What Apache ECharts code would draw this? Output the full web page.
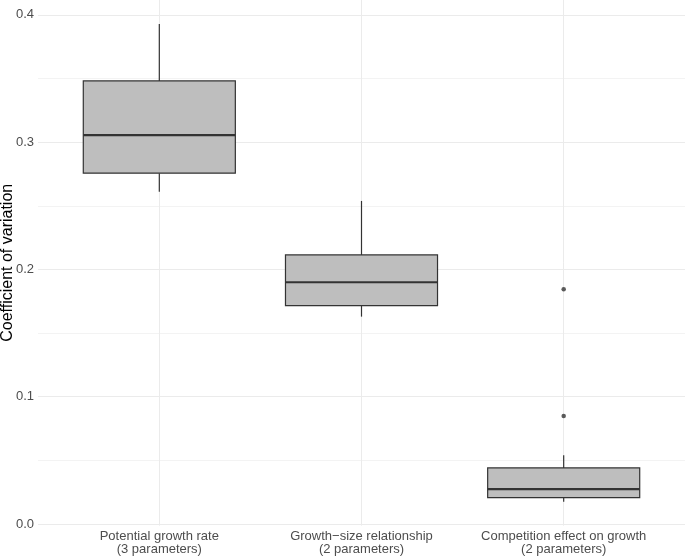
<!DOCTYPE html>
<html><head><meta charset="utf-8">
<script src="https://cdn.jsdelivr.net/npm/echarts@6/dist/echarts.min.js"></script>
<style>html,body{margin:0;padding:0;background:#fff}#chart{width:685px;height:556px}</style>
</head><body><div id="chart"></div>
<script>
const categories = ['Potential growth rate\n(3 parameters)', 'Growth\u2212size relationship\n(2 parameters)', 'Competition effect on growth\n(2 parameters)'];
const categoryPositions = [1, 2, 3];
const whiskerLow = [0.2611, 0.1629, 0.0175];
const q1 = [0.2756, 0.1716, 0.0207];
const median = [0.3055, 0.1899, 0.0273];
const q3 = [0.3481, 0.2114, 0.0440];
const whiskerHigh = [0.3929, 0.2538, 0.0540];
const outlierGroup = [3, 3];
const outlierValues = [0.1844, 0.0849];
const yTicks = [0, 0.1, 0.2, 0.3, 0.4];
const yMinorTicks = [0.05, 0.15, 0.25, 0.35];

const FONT = 'Liberation Sans, Arial, Helvetica, sans-serif';
const boxData = categoryPositions.map((p, i) => [p, whiskerLow[i], q1[i], median[i], q3[i], whiskerHigh[i]]);
const outlierData = outlierGroup.map((g, i) => [g, outlierValues[i]]);
const HALF_BOX = 0.376;
const INK = '#333333';

function renderBox(params, api) {
  const x = api.value(0);
  const lo = api.coord([x, api.value(1)]);
  const b1 = api.coord([x - HALF_BOX, api.value(2)]);
  const m1 = api.coord([x - HALF_BOX, api.value(3)]);
  const m2 = api.coord([x + HALF_BOX, api.value(3)]);
  const b2 = api.coord([x + HALF_BOX, api.value(4)]);
  const hi = api.coord([x, api.value(5)]);
  const cx = lo[0];
  return {
    type: 'group',
    children: [
      {type: 'line', shape: {x1: cx, y1: hi[1], x2: cx, y2: b2[1]}, style: {stroke: INK, lineWidth: 1.2}},
      {type: 'line', shape: {x1: cx, y1: b1[1], x2: cx, y2: lo[1]}, style: {stroke: INK, lineWidth: 1.2}},
      {type: 'rect', shape: {x: b1[0], y: b2[1], width: b2[0] - b1[0], height: b1[1] - b2[1]}, style: {fill: '#BEBEBE', stroke: INK, lineWidth: 1.2}},
      {type: 'line', shape: {x1: m1[0], y1: m1[1], x2: m2[0], y2: m2[1]}, style: {stroke: INK, lineWidth: 2.2}}
    ]
  };
}

const chart = echarts.init(document.getElementById('chart'), null, {renderer: 'canvas'});
chart.setOption({
  animation: false,
  backgroundColor: '#ffffff',
  grid: {left: 38, right: 0, top: 0, bottom: 30.4, containLabel: false, outerBoundsMode: 'none'},
  xAxis: {
    type: 'value', min: 0.4, max: 3.6,
    axisLine: {show: false},
    axisTick: {show: false, customValues: categoryPositions},
    axisLabel: {
      customValues: categoryPositions,
      formatter: v => categories[Math.round(v) - 1],
      color: '#4D4D4D', fontSize: 13, fontFamily: FONT, lineHeight: 13, margin: 4
    },
    splitLine: {show: true, lineStyle: {color: '#EBEBEB', width: 1}}
  },
  yAxis: [{
    type: 'value', min: -0.0013, max: 0.4117,
    name: 'Coefficient of variation', nameLocation: 'middle', nameRotate: 90, nameGap: 22.5,
    nameMoveOverlap: false,
    nameTextStyle: {color: '#000000', fontSize: 16, fontFamily: FONT},
    axisLine: {show: false},
    axisTick: {show: false, customValues: yTicks},
    axisLabel: {customValues: yTicks, formatter: v => v.toFixed(1), color: '#4D4D4D', fontSize: 13, fontFamily: FONT, margin: 4},
    splitLine: {show: true, lineStyle: {color: '#EBEBEB', width: 1}}
  }, {
    type: 'value', min: -0.0013, max: 0.4117, position: 'left',
    axisLine: {show: false},
    axisTick: {show: false, customValues: yMinorTicks},
    axisLabel: {show: false},
    splitLine: {show: true, lineStyle: {color: '#F3F3F3', width: 1}}
  }],
  series: [{
    type: 'custom',
    data: boxData,
    encode: {x: 0, y: [1, 2, 3, 4, 5]},
    renderItem: renderBox,
    z: 4
  }, {
    type: 'scatter',
    data: outlierData,
    symbol: 'circle', symbolSize: 4.5,
    itemStyle: {color: INK},
    z: 6
  }]
});
</script></body></html>
